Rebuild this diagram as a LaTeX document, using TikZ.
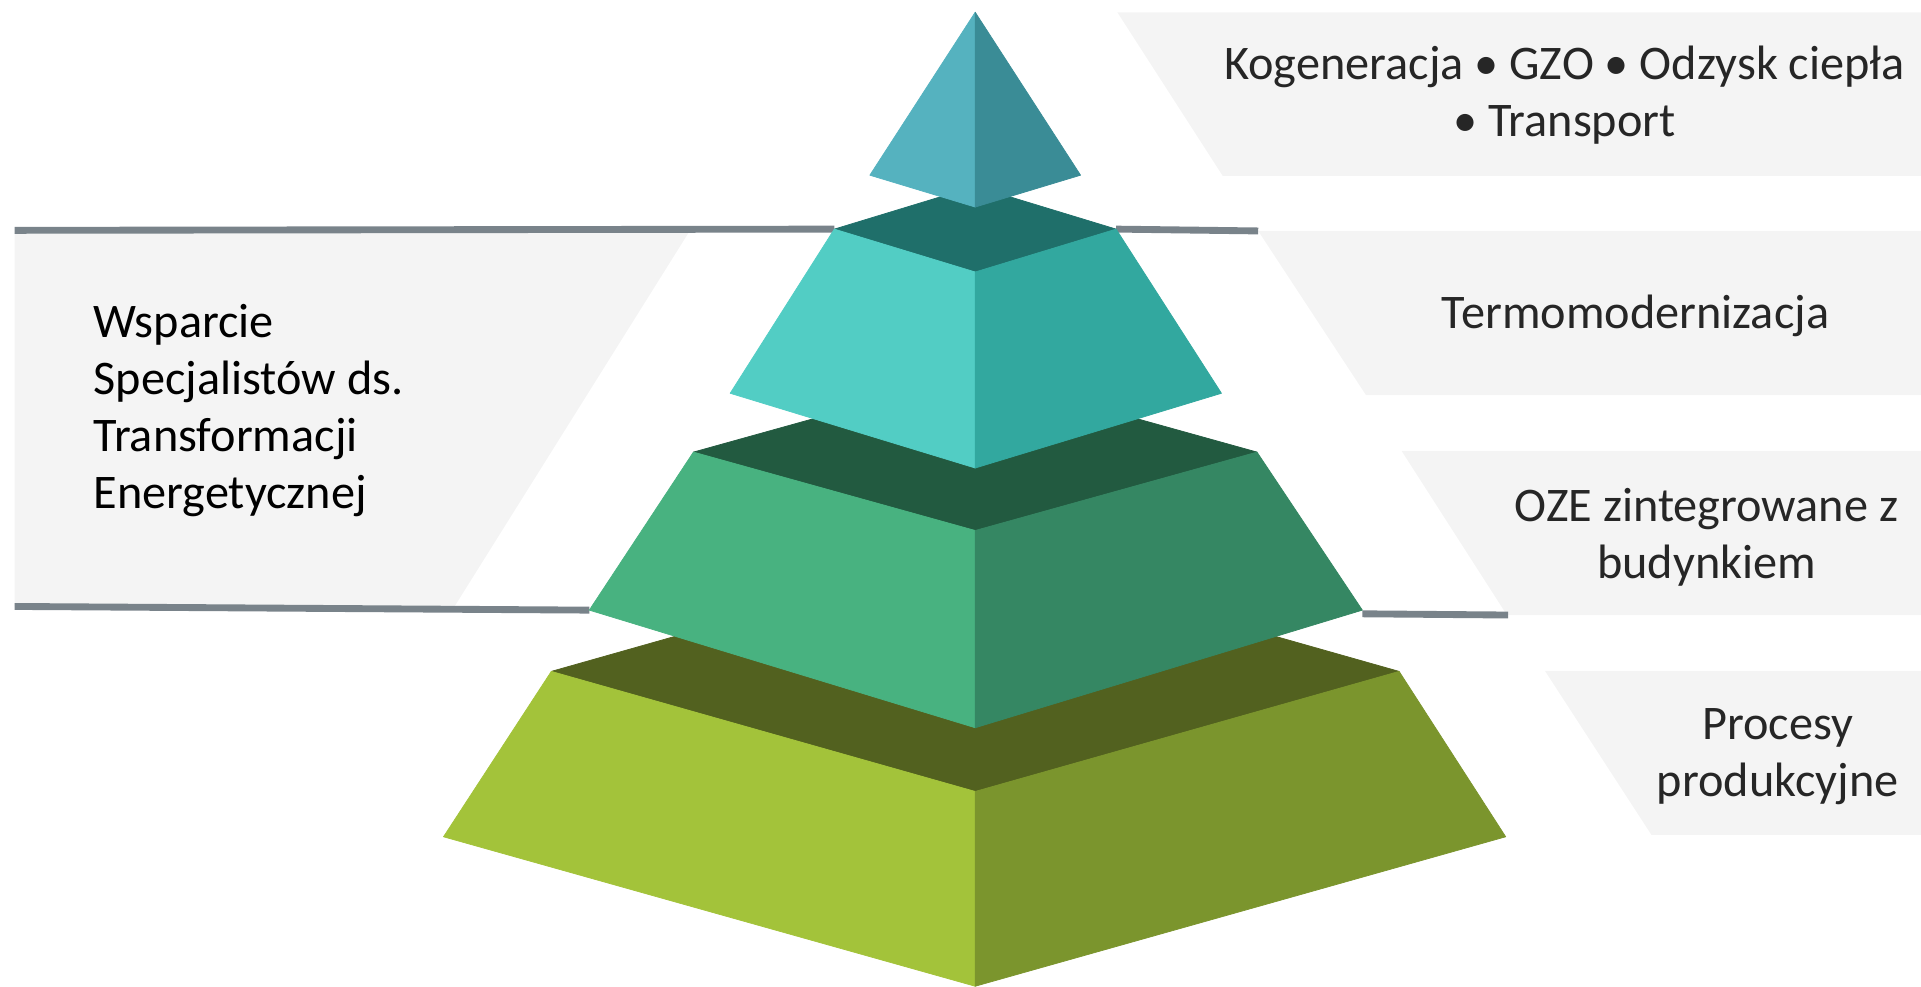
\documentclass[tikz,border=0pt]{standalone}
\usepackage{fontspec}
\setmainfont{Carlito}
\definecolor{cAL}{HTML}{55B2BF}
\definecolor{cAR}{HTML}{3A8C96}
\definecolor{cBT}{HTML}{1F6F6A}
\definecolor{cBL}{HTML}{52CDC4}
\definecolor{cBR}{HTML}{32A89F}
\definecolor{cCT}{HTML}{225A40}
\definecolor{cCL}{HTML}{48B280}
\definecolor{cCR}{HTML}{358763}
\definecolor{cDT}{HTML}{52611F}
\definecolor{cDL}{HTML}{A3C33A}
\definecolor{cDR}{HTML}{7B952D}
\definecolor{gline}{HTML}{79838A}
\definecolor{panelgray}{HTML}{F4F4F4}
\definecolor{txtgray}{HTML}{262626}
\tikzset{
  face/.style={fill=#1, draw=#1, line width=0.3pt, line join=round},
  panelbox/.style={fill=panelgray},
  sepline/.style={draw=gline, line width=2.8pt},
  lbl/.style={font=\fontsize{19.7}{23.25}\selectfont, text=txtgray, inner sep=0pt, anchor=base, align=center},
  lbll/.style={font=\fontsize{19.7}{23.25}\selectfont, text=black, inner sep=0pt, anchor=base west, align=left}
}
\begin{document}
\begin{tikzpicture}[x=0.5pt,y=-0.5pt]
\useasboundingbox (0,0) rectangle (1568,805);
% panels
\fill[panelbox] (12,190) -- (562,190) -- (371,495) -- (12,495) -- cycle;
\fill[panelbox] (912,10) -- (1568,10) -- (1568,143.5) -- (998,143.5) -- cycle;
\fill[panelbox] (1027,188.5) -- (1568,188.5) -- (1568,322.5) -- (1115,322.5) -- cycle;
\fill[panelbox] (1144,368) -- (1568,368) -- (1568,502) -- (1230,502) -- cycle;
\fill[panelbox] (1261,547.5) -- (1568,547.5) -- (1568,681.5) -- (1348,681.5) -- cycle;
% corner coordinates
\coordinate (AT) at (796,10);
\coordinate (AL) at (710,143);
\coordinate (AR) at (882,143);
\coordinate (AF) at (796,169);
\coordinate (BL) at (681,187);
\coordinate (BB) at (796,152);
\coordinate (BR) at (911,187);
\coordinate (BF) at (796,222);
\coordinate (BLb) at (596,321);
\coordinate (BRb) at (997,321);
\coordinate (BFb) at (796,382);
\coordinate (CL) at (566,369);
\coordinate (CB) at (796,305);
\coordinate (CR) at (1026,369);
\coordinate (CF) at (796,433);
\coordinate (CLb) at (481,498);
\coordinate (CRb) at (1112,498);
\coordinate (CFb) at (796,594);
\coordinate (DL) at (450,548);
\coordinate (DB) at (796,450);
\coordinate (DR) at (1142,548);
\coordinate (DF) at (796,646);
\coordinate (DLb) at (362,683);
\coordinate (DRb) at (1229,683);
\coordinate (DFb) at (796,805);
% line ends
\coordinate (l1a) at (12,188);
\coordinate (l2a) at (12,495);
\coordinate (r1b) at (1027,188.5);
\coordinate (r2a) at (1112,501);
\coordinate (r2b) at (1231,502);
% separator lines
\draw[sepline] (l1a) -- (BL);
\draw[sepline] (l2a) -- (CLb);
\draw[sepline] (BR) -- (r1b);
\draw[sepline] (r2a) -- (r2b);
% tier 4
\path[face=cDT] (DL) -- (DB) -- (DR) -- (DF) -- cycle;
\path[face=cDL] (DL) -- (DF) -- (DFb) -- (DLb) -- cycle;
\path[face=cDR] (DF) -- (DR) -- (DRb) -- (DFb) -- cycle;
% tier 3
\path[face=cCT] (CL) -- (CB) -- (CR) -- (CF) -- cycle;
\path[face=cCL] (CL) -- (CF) -- (CFb) -- (CLb) -- cycle;
\path[face=cCR] (CF) -- (CR) -- (CRb) -- (CFb) -- cycle;
% tier 2
\path[face=cBT] (BL) -- (BB) -- (BR) -- (BF) -- cycle;
\path[face=cBL] (BL) -- (BF) -- (BFb) -- (BLb) -- cycle;
\path[face=cBR] (BF) -- (BR) -- (BRb) -- (BFb) -- cycle;
% tier 1
\path[face=cAL] (AT) -- (AF) -- (AL) -- cycle;
\path[face=cAR] (AT) -- (AR) -- (AF) -- cycle;
% labels (base anchor = baseline of last line)
\node[lbll] (wsp) at (76,415) {Wsparcie\\Specjalistów ds.\\Transformacji\\Energetycznej};
\node[lbl] (kog) at (1277,111.5) {Kogeneracja • GZO • Odzysk ciepła\\• Transport};
\node[lbl] (ter) at (1335,268) {Termomodernizacja};
\node[lbl] (oze) at (1393,472) {OZE zintegrowane z\\budynkiem};
\node[lbl] (pro) at (1451,650) {Procesy\\produkcyjne};
\end{tikzpicture}
\end{document}
